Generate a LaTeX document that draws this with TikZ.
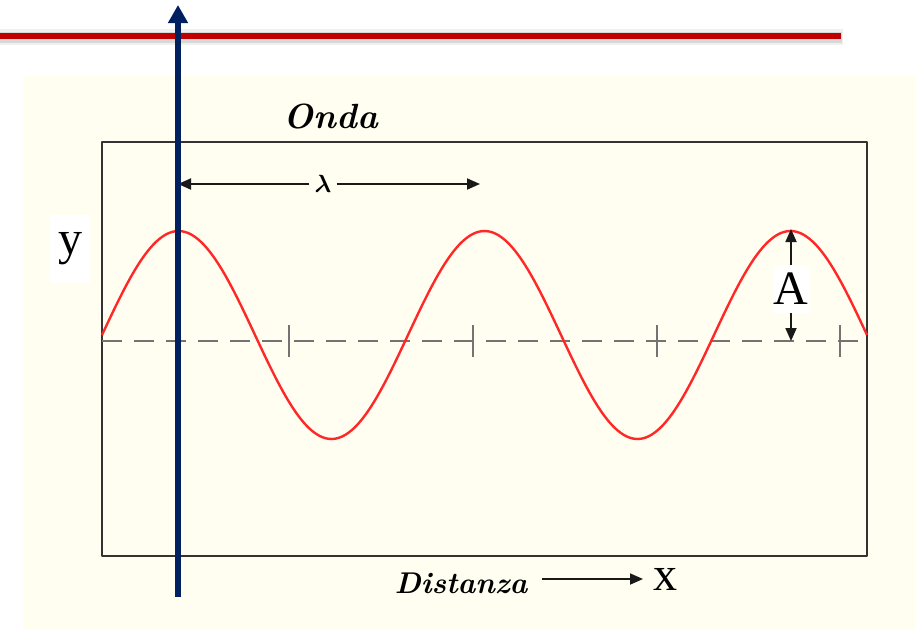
\documentclass[tikz,border=0pt]{standalone}
\usepackage{bm}
\usepackage{fontspec}
\newfontfamily\timesfont{Liberation Serif}
\usetikzlibrary{arrows.meta,positioning}
\definecolor{cream}{RGB}{255,254,241}
\definecolor{navy}{RGB}{0,32,96}
\definecolor{darkred}{RGB}{192,0,0}
\definecolor{wavered}{RGB}{255,40,40}

\begin{document}
\begin{tikzpicture}[x=1pt, y=-1pt, line join=round]
    \tikzset{
        frame/.style={draw=black!80, line width=2.2pt},
        axisline/.style={draw=black!55, line width=2pt, dash pattern=on 20pt off 12pt},
        tickmark/.style={draw=black!55, line width=1.6pt},
        wave/.style={draw=wavered, line width=2.4pt},
        dimarrow/.style={-{Triangle[length=13pt,width=11pt]}, line width=1.8pt, draw=black!90},
        bigserif/.style={font=\timesfont\fontsize{48}{54}\selectfont, inner sep=2pt},
        script/.style={font=\fontsize{#1}{#1}\selectfont\bfseries\itshape, inner sep=2pt},
        whitebox/.style={fill=white, inner sep=0pt},
        axisarrow/.style={-{Triangle[length=18pt,width=19pt]}, line width=5.5pt, draw=navy}
    }

    % Page and cream panel
    \useasboundingbox (0,0) rectangle (915,629);
    \fill[cream] (23,76) rectangle (915,629);

    % Red rule with soft shadow
    \draw[line width=16pt, black, opacity=0.06] (0,37) -- (843,37);
    \draw[line width=11pt, black, opacity=0.10] (0,37) -- (842,37);
    \draw[line width=6pt, darkred] (0,36) -- (841,36);

    % Title
    \node[script=35] (title) at (331,116) {Onda};

    % Frame
    \draw[frame] (102,142) rectangle (867,556);

    % Rest line and ticks
    \draw[axisline] (102,341) -- (867,341);
    \foreach \t in {289,473,657,840} {
        \draw[tickmark] (\t,325) -- (\t,357);
    }

    % Wave
    \draw[wave] plot[domain=102:867, samples=240, smooth] (\x, {335-104*sin((\x-102)/306*360)});

    % Wavelength
    \coordinate (lamL) at (178,184);
    \coordinate (lamR) at (480,184);
    \node[font=\fontsize{24}{28}\selectfont, inner sep=5pt] (lam) at (323,184) {$\bm{\lambda}$};
    \draw[dimarrow] (lam) -- (lamL);
    \draw[dimarrow] (lam) -- (lamR);

    % Amplitude
    \coordinate (crest) at (791,229);
    \coordinate (base) at (791,341);
    \node[bigserif, whitebox, minimum width=37pt, minimum height=48pt] (amp) at (791,289) {A};
    \draw[dimarrow] (amp) -- (crest);
    \draw[dimarrow] (amp) -- (base);

    % y label
    \node[bigserif, whitebox, minimum width=40pt, minimum height=68pt] (ylab) at (70,249) {y};

    % Distance label
    \node[script=30] (dist) at (461,583) {Distanza};
    \coordinate (dxs) at (542,579);
    \coordinate (dxe) at (643,579);
    \draw[dimarrow] (dxs) -- (dxe);
    \node[bigserif, right=8pt of dxe] (xlab) {x};

    % Vertical arrow
    \coordinate (vbot) at (178,597);
    \coordinate (vtop) at (178,5);
    \draw[axisarrow] (vbot) -- (vtop);
\end{tikzpicture}
\end{document}
